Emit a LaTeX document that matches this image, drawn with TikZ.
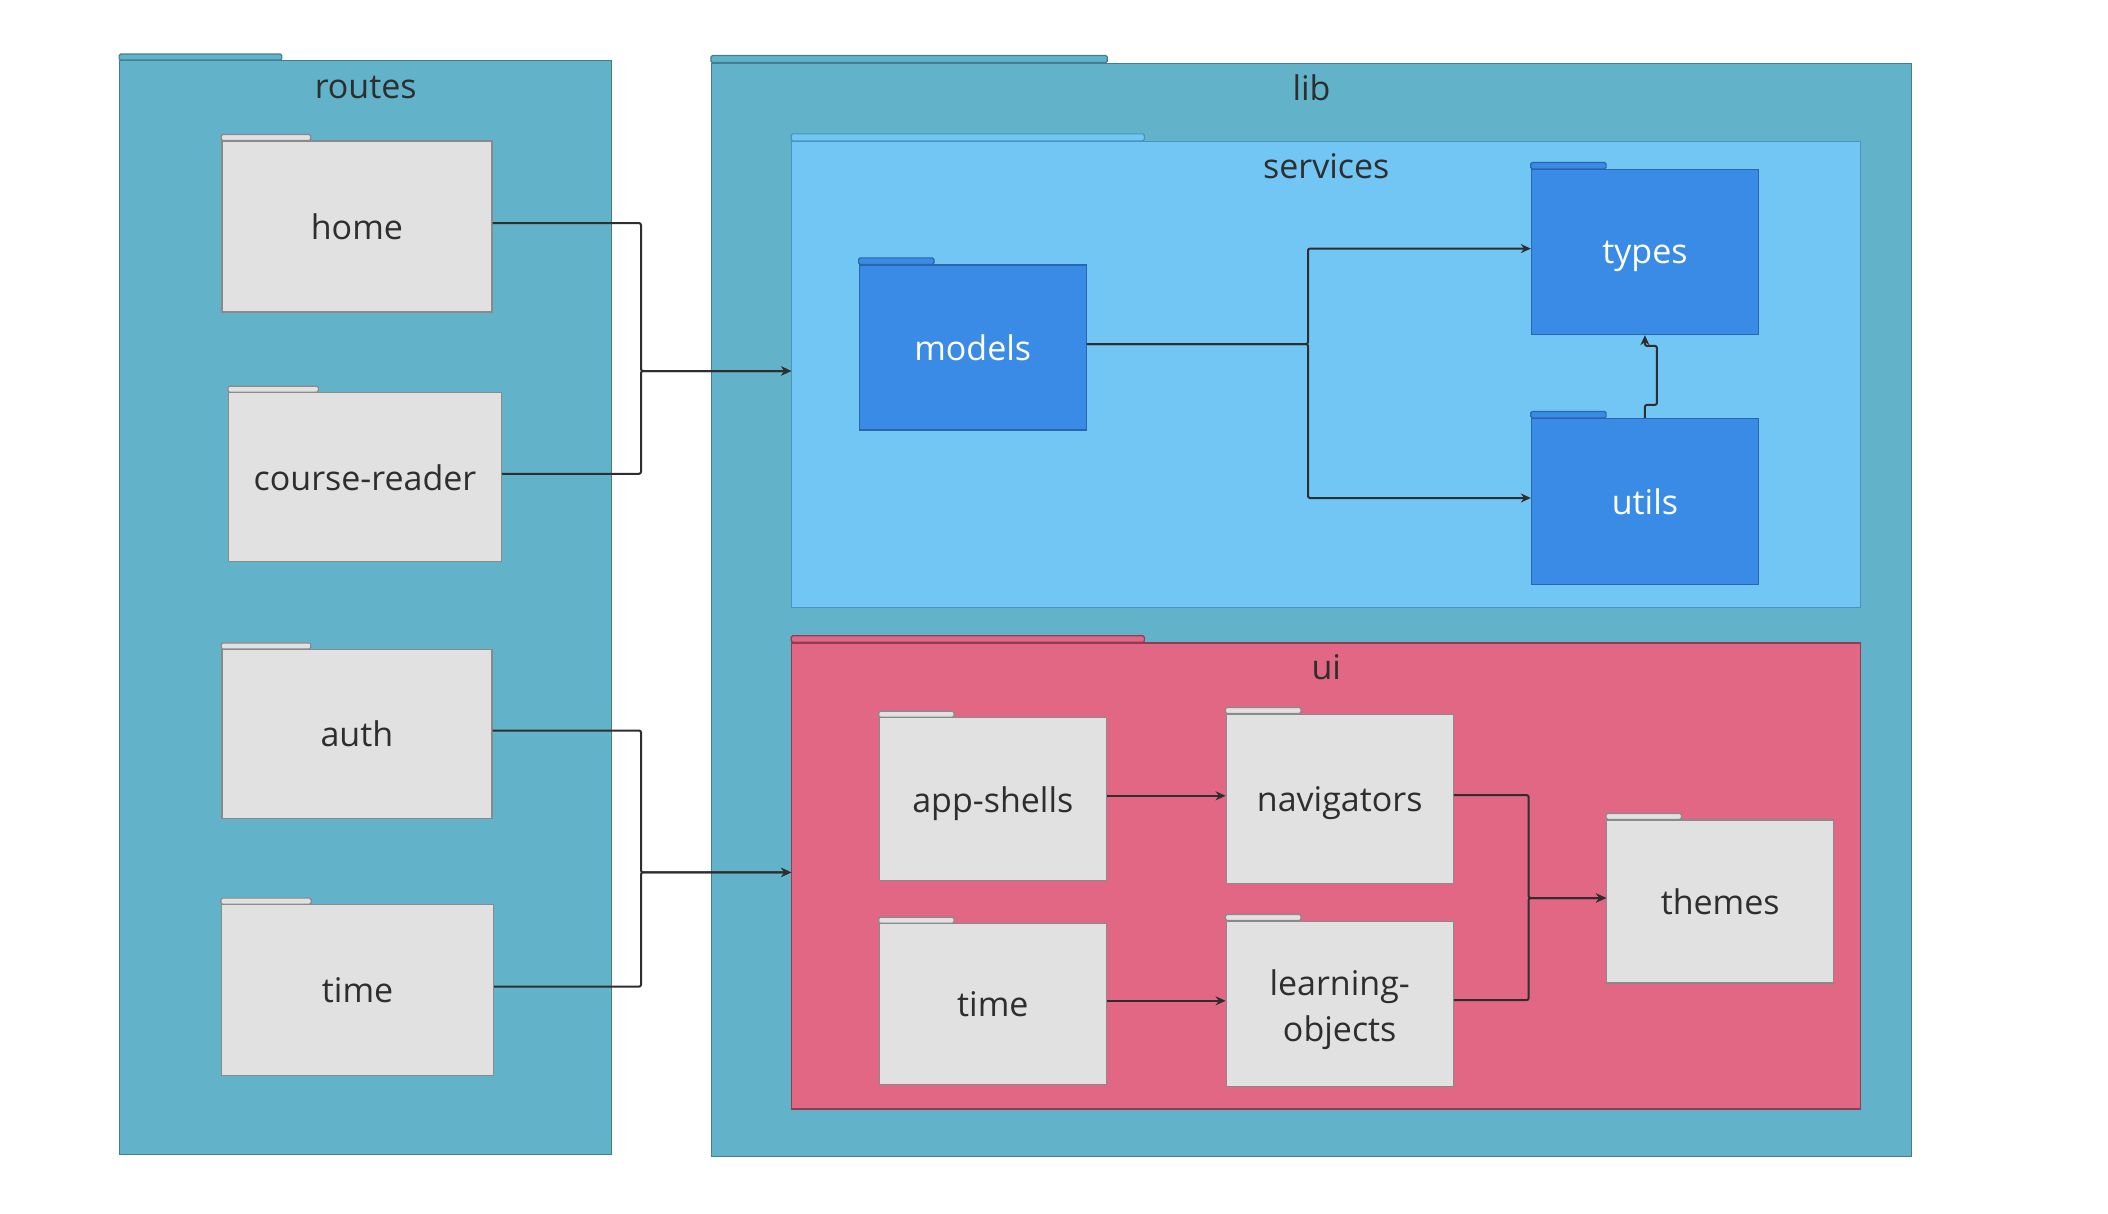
\documentclass[tikz,border=0pt]{standalone}
\usepackage{fontspec}
\setmainfont{Open Sans}
\usetikzlibrary{calc,arrows.meta}
\definecolor{tealfill}{HTML}{62B3C9}
\definecolor{tealline}{HTML}{3F7F90}
\definecolor{svcfill}{HTML}{72C6F4}
\definecolor{svcline}{HTML}{4A93BE}
\definecolor{uifill}{HTML}{E16785}
\definecolor{uiline}{HTML}{8E3D52}
\definecolor{grayfill}{HTML}{E1E1E1}
\definecolor{grayline}{HTML}{8A8A8A}
\definecolor{bluefill}{HTML}{3A8BE6}
\definecolor{blueline}{HTML}{2A65AD}
\definecolor{txt}{HTML}{2E2E2E}
\tikzset{
  box/.style={rectangle, inner sep=0pt, line width=1.2pt, text depth=0pt, font=\fontsize{34}{46}\selectfont, text=txt},
  pkgbox/.style={box, draw=tealline, fill=tealfill},
  svcbox/.style={box, draw=svcline, fill=svcfill},
  uibox/.style={box, draw=uiline, fill=uifill},
  graybox/.style={box, draw=grayline, fill=grayfill, minimum width=227pt},
  bluebox/.style={box, draw=blueline, fill=bluefill, text=white, minimum width=227pt, minimum height=166pt},
  pkgtab/.style={draw=tealline, fill=tealfill, line width=1.2pt},
  svctab/.style={draw=svcline, fill=svcfill, line width=1.2pt},
  uitab/.style={draw=uiline, fill=uifill, line width=1.2pt},
  graytab/.style={draw=grayline, fill=grayfill, line width=1.2pt},
  bluetab/.style={draw=blueline, fill=bluefill, line width=1.2pt},
  ttl/.style={font=\fontsize{34}{46}\selectfont, text=txt},
  conn/.style={draw=txt, line width=2pt, rounded corners=2pt, -{Stealth[length=10pt,width=9pt]}}
}
\newcommand{\foldertab}[3]{\draw[#1, rounded corners=1.5pt] (#2.north west) rectangle ([yshift=#3pt]$(#2.north west)!0.33!(#2.north east)$);}

\begin{document}
\begin{tikzpicture}[x=1pt,y=-1pt]
\useasboundingbox (0,0) rectangle (2108,1214);
\node[pkgbox, minimum width=492pt, minimum height=1094pt] (routes) at (365.7,607.7) {};
\node[pkgbox, minimum width=1200pt, minimum height=1093pt] (lib) at (1311.5,609.7) {};
\foldertab{pkgtab}{routes}{6}
\foldertab{pkgtab}{lib}{7}
\node[ttl] (routes-t) at (365.7,87) {routes};
\node[ttl] (lib-t) at (1311.5,88) {lib};
\node[svcbox, minimum width=1069pt, minimum height=466pt] (services) at (1326.3,374.5) {};
\node[uibox, minimum width=1069pt, minimum height=466pt] (ui) at (1326.3,875.9) {};
\foldertab{svctab}{services}{7}
\foldertab{uitab}{ui}{6.5}
\node[ttl] (services-t) at (1326.3,166) {services};
\node[ttl] (ui-t) at (1326.3,667.5) {ui};
\node[graybox, minimum width=270pt, minimum height=171pt] (home) at (356.9,226.6) {home};
\node[graybox, minimum width=273pt, minimum height=169pt] (reader) at (365,477.3) {course-reader};
\node[graybox, minimum width=270pt, minimum height=169pt] (auth) at (356.9,734) {auth};
\node[graybox, minimum width=272pt, minimum height=171pt] (rtime) at (357.6,990.2) {time};
\node[bluebox, minimum height=165pt] (models) at (972.7,347.5) {models};
\node[bluebox, minimum height=165pt] (types) at (1644.9,252.1) {types};
\node[bluebox] (utils) at (1644.9,501.5) {utils};
\node[graybox, minimum height=163pt] (shells) at (992.8,799.3) {app-shells};
\node[graybox, minimum height=169pt] (navs) at (1339.7,798.6) {navigators};
\node[graybox, minimum height=161pt] (utime) at (992.8,1004.3) {time};
\node[graybox, minimum height=165pt, align=center] (learn) at (1339.7,1003.6) {\raisebox{-4pt}{learning-}\\\raisebox{-4pt}{objects}};
\node[graybox, minimum height=163pt] (themes) at (1720.2,901.5) {themes};
\foreach \n in {home,reader,auth,rtime,shells,navs,utime,learn,themes}
  \foldertab{graytab}{\n}{6};
\foreach \n in {models,types,utils}
  \foldertab{bluetab}{\n}{6.5};
\coordinate (rbus) at (641,0);
\coordinate (sbus) at (1308,0);
\coordinate (ubus) at (1528.6,0);
\foreach \a/\b in {home/services,reader/services,auth/ui,rtime/ui}{
  \coordinate (p) at ([yshift=3.5pt]\a.east);
  \coordinate (q) at ([yshift=3.5pt]\b.west);
  \draw[conn] (p) -- (rbus |- p) |- (q);
}
\coordinate (p) at ([yshift=3.5pt]models.east);
\foreach \b in {types,utils}{
  \coordinate (q) at ([yshift=3.5pt]\b.west);
  \draw[conn] (p) -- (sbus |- p) |- (q);
}
\draw[conn] (utils.north) -- ++(0,-13) -- ++(12,0) -- ++(0,-59) -- ++(-12,0) -- (types.south);
\draw[conn] ([yshift=3.5pt]shells.east) -- ([yshift=3.5pt]shells.east -| navs.west);
\draw[conn] ([yshift=3.5pt]utime.east) -- ([yshift=3.5pt]utime.east -| learn.west);
\coordinate (q) at ([yshift=3.5pt]themes.west);
\foreach \a in {navs,learn}{
  \coordinate (p) at ([yshift=3.5pt]\a.east);
  \draw[conn] (p) -- (ubus |- p) |- (q);
}
\end{tikzpicture}
\end{document}
